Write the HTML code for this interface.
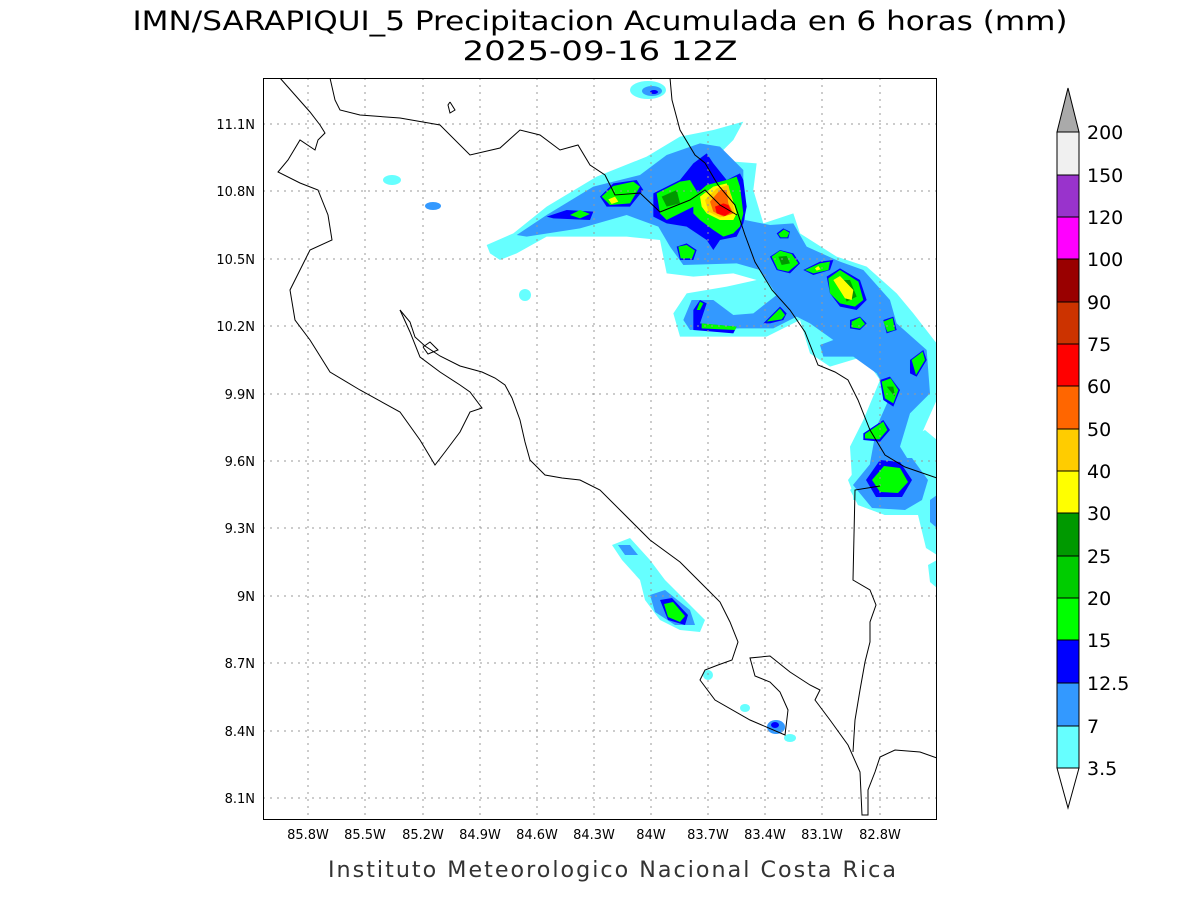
<!DOCTYPE html>
<html><head><meta charset="utf-8"><style>
html,body{margin:0;padding:0;background:#fff;}
svg{display:block;font-family:"DejaVu Sans","Liberation Sans",sans-serif;}
</style></head><body>
<svg width="1200" height="900" viewBox="0 0 1200 900" xmlns="http://www.w3.org/2000/svg">
<rect width="1200" height="900" fill="#fff"/>
<text x="600" y="30" font-size="27" text-anchor="middle" fill="#000" textLength="935" lengthAdjust="spacingAndGlyphs">IMN/SARAPIQUI_5 Precipitacion Acumulada en 6 horas (mm)</text>
<text x="600" y="60" font-size="27" text-anchor="middle" fill="#000" textLength="275" lengthAdjust="spacingAndGlyphs">2025-09-16 12Z</text>
<defs><clipPath id="pc"><rect x="263" y="78" width="674" height="742"/></clipPath></defs>
<g clip-path="url(#pc)">
<path fill="#66ffff" d="M848,480 L870,450 905,440 925,430 937,440 937,555 926,548 918,515 885,515 858,505Z M928,565 L937,560 937,588 930,582Z"/>
<g transform="translate(480,80) scale(0.33333)">
<path fill="#66ffff" d="M20,495 L100,460 200,380 350,290 500,230 600,170 700,150 790,125 760,180 700,240 830,250 820,330 850,430 940,400 960,460 1070,530 1160,560 1250,640 1300,700 1370,790 1370,960 1330,1050 1300,1100 1370,1180 1370,1260 1120,1260 1110,1100 1150,1020 1200,900 1150,830 1050,860 990,820 960,720 860,770 600,770 580,700 620,640 740,620 830,600 760,580 640,590 560,580 540,480 440,470 200,470 110,520 60,540 30,520Z"/>
<path fill="#3399ff" d="M110,465 L200,405 340,320 480,285 560,225 660,190 720,200 790,270 790,330 795,420 870,435 940,430 980,500 1080,545 1150,570 1230,660 1250,730 1340,810 1350,940 1290,1000 1260,1100 1310,1180 1290,1260 1190,1260 1170,1150 1190,1040 1230,950 1190,880 1120,830 1030,830 1020,795 1060,780 990,730 950,710 880,745 780,745 630,750 610,720 635,660 700,660 760,705 820,700 890,645 840,570 770,550 610,555 570,500 535,440 440,405 300,445 140,470Z"/>
<path fill="#0000ff" d="M200,410 L260,390 340,395 330,420 220,415Z M360,350 L400,310 470,300 490,330 450,380 380,380Z M520,340 L600,300 640,250 680,220 700,250 740,300 780,280 790,300 800,380 790,430 770,470 720,480 700,510 680,480 620,440 560,430 520,410Z M870,530 L900,510 940,520 960,550 930,580 890,570Z M970,570 L1020,545 1060,540 1050,570 1000,585Z M1040,590 L1080,565 1140,600 1160,660 1130,690 1080,680 1050,640Z M640,690 L660,660 680,670 660,730 770,740 760,760 640,750Z M850,730 L900,680 920,700 910,720 870,730Z M1110,720 L1140,710 1160,730 1140,750 1110,745Z M1210,720 L1240,710 1250,750 1220,760Z M1290,840 L1330,810 1340,840 1310,890 1290,880Z M1200,900 L1230,890 1260,930 1240,980 1210,960Z M1150,1060 L1210,1020 1230,1050 1200,1085 1150,1080Z M890,460 L910,445 930,455 925,475 900,475Z M590,500 L620,490 650,510 640,540 600,540Z"/>
<path fill="#00ff00" d="M270,405 L300,390 330,402 300,415Z M365,350 L400,318 460,305 480,320 450,370 390,375Z M530,340 L600,305 630,300 660,350 660,370 620,390 560,420 540,400Z M640,350 L680,315 740,300 770,290 780,320 790,400 780,440 760,460 730,470 700,450 660,420 640,400Z M875,530 L900,512 935,522 955,550 925,575 893,568Z M975,570 L1020,550 1050,545 1045,570 1000,580Z M1045,595 L1080,570 1135,605 1150,660 1125,680 1080,670 1050,640Z M650,690 L660,665 670,670 660,690Z M665,730 L770,740 765,750 665,745Z M860,725 L900,685 915,705 905,718Z M1115,725 L1140,712 1155,732 1140,746 1115,742Z M1210,725 L1238,714 1245,750 1222,756Z M1295,840 L1328,815 1335,840 1308,885Z M1205,905 L1232,895 1255,930 1240,970 1215,955Z M1155,1062 L1210,1025 1222,1050 1198,1078 1155,1075Z M895,462 L912,448 928,458 922,472 902,472Z M595,500 L620,495 645,512 636,535 602,535Z"/>
<path fill="#009900" d="M545,350 L590,330 600,370 560,380Z M895,530 L920,528 930,550 905,555Z M1075,600 L1110,600 1130,650 1100,665Z M1220,920 L1240,920 1245,950Z"/>
<path fill="#ffff00" d="M385,358 L405,350 415,365 395,372Z M660,350 L700,320 740,310 755,350 770,400 760,420 720,420 680,400 665,380Z M1005,565 L1015,558 1022,568 1010,572Z M1060,600 L1080,588 1120,630 1115,660 1095,655Z"/>
<path fill="#ffcc00" d="M675,360 L710,325 745,315 755,355 765,400 720,412 685,395Z"/>
<path fill="#ff6600" d="M690,365 L720,330 740,330 745,370 760,400 730,410 700,395Z"/>
<path fill="#ff0000" d="M705,380 L730,370 745,375 755,395 735,408 710,400Z"/>
</g>
<path fill="#66ffff" d="M850,490 L870,470 905,465 925,490 918,515 885,515 858,505Z"/>
<path fill="#3399ff" d="M853,485 L875,458 912,458 928,480 922,500 905,510 872,508Z M930,500 L937,495 937,528 930,522Z"/>
<path fill="#0000ff" d="M866,480 L880,460 900,462 912,480 902,497 876,497Z"/>
<path fill="#00ff00" d="M872,480 L884,466 900,468 908,482 898,493 880,492Z"/>
<ellipse cx="392" cy="180" rx="9" ry="5" fill="#66ffff"/>
<ellipse cx="433" cy="206" rx="8" ry="4" fill="#3399ff"/>
<ellipse cx="525" cy="295" rx="6" ry="6" fill="#66ffff"/>
<ellipse cx="648" cy="90" rx="18" ry="9" fill="#66ffff"/>
<ellipse cx="652" cy="91" rx="10" ry="5" fill="#3399ff"/>
<ellipse cx="654" cy="92" rx="4" ry="2" fill="#0000ff"/>
<path fill="#66ffff" d="M612,545 L630,538 650,560 665,580 690,605 705,620 700,632 680,630 660,620 645,600 640,580 622,560Z"/>
<path fill="#3399ff" d="M650,595 L665,590 690,610 695,625 675,625 655,612Z M618,545 L630,545 638,555 625,555Z"/>
<path fill="#0000ff" d="M660,600 L672,598 688,615 685,625 668,620Z"/>
<path fill="#00ff00" d="M664,604 L673,602 685,616 680,622 668,617Z"/>
<ellipse cx="776" cy="727" rx="9" ry="7" fill="#3399ff"/>
<ellipse cx="775" cy="725" rx="4" ry="3" fill="#0000ff"/>
<ellipse cx="790" cy="738" rx="6" ry="4" fill="#66ffff"/>
<ellipse cx="745" cy="708" rx="5" ry="4" fill="#66ffff"/>
<ellipse cx="708" cy="675" rx="5" ry="5" fill="#66ffff"/>
</g>
<g stroke="#999" stroke-width="1" stroke-dasharray="2,5">
<line x1="308" y1="78" x2="308" y2="820"/><line x1="365" y1="78" x2="365" y2="820"/><line x1="423" y1="78" x2="423" y2="820"/><line x1="480" y1="78" x2="480" y2="820"/><line x1="537" y1="78" x2="537" y2="820"/><line x1="594" y1="78" x2="594" y2="820"/><line x1="651" y1="78" x2="651" y2="820"/><line x1="708" y1="78" x2="708" y2="820"/><line x1="765" y1="78" x2="765" y2="820"/><line x1="822" y1="78" x2="822" y2="820"/><line x1="880" y1="78" x2="880" y2="820"/>
<line x1="263" y1="124" x2="937" y2="124"/><line x1="263" y1="191" x2="937" y2="191"/><line x1="263" y1="259" x2="937" y2="259"/><line x1="263" y1="326" x2="937" y2="326"/><line x1="263" y1="394" x2="937" y2="394"/><line x1="263" y1="461" x2="937" y2="461"/><line x1="263" y1="528" x2="937" y2="528"/><line x1="263" y1="596" x2="937" y2="596"/><line x1="263" y1="663" x2="937" y2="663"/><line x1="263" y1="731" x2="937" y2="731"/><line x1="263" y1="798" x2="937" y2="798"/>
</g>
<g clip-path="url(#pc)" fill="none" stroke="#000" stroke-width="1">
<polyline points="280,78 295,95 310,112 320,125 325,133 318,140 315,150 300,140 288,160 278,172 300,183 318,190 328,215 332,240 310,250 300,270 290,290 295,320 310,340 330,372 360,390 400,412 420,440 435,465 445,452 460,432 470,412 482,408 470,392 460,385 440,372 420,357 410,332 400,310"/>
<polyline points="400,310 410,322 415,337 425,346 440,356 460,366 482,372 495,378 505,385 512,398 520,420 525,442 530,460 545,475 562,478 580,480 600,490 620,510 650,540 680,562 700,582 720,602 730,622 738,642 732,660 718,665 705,670 700,680 715,700 750,720 785,735 788,710 780,692 770,682 755,676 750,658 770,656 790,672 810,685 820,690 815,700 830,720 848,745 860,772 862,815 868,815 868,790 875,772 880,757 895,750 920,752 937,758"/>
<polyline points="330,78 335,100 340,110 360,115 400,118 440,125 470,155 500,148 520,130 540,135 560,150 578,145 590,165 605,175 615,195 640,193 660,212 690,200 705,190 720,205 737,215"/>
<polyline points="670,78 672,100 680,130 695,155 705,163 718,185 735,205 745,235 755,262 772,290 790,310 805,332 818,365 835,372 848,380 858,400 870,430 885,455 905,467 937,478"/>
<polyline points="880,486 855,490 853,580 870,590 876,605 870,622 870,642 865,662 860,690 855,720 853,752"/>
<polyline points="423,347 430,342 438,350 428,354 423,347"/>
<polyline points="450,102 455,110 450,113 448,105 450,102"/>
</g>
<rect x="263.5" y="78.5" width="673" height="741" fill="none" stroke="#000" stroke-width="1"/>
<g font-size="13" fill="#000" text-anchor="end">
<text x="255" y="129">11.1N</text><text x="255" y="196">10.8N</text><text x="255" y="264">10.5N</text><text x="255" y="331">10.2N</text><text x="255" y="399">9.9N</text><text x="255" y="466">9.6N</text><text x="255" y="533">9.3N</text><text x="255" y="601">9N</text><text x="255" y="668">8.7N</text><text x="255" y="736">8.4N</text><text x="255" y="803">8.1N</text>
</g>
<g font-size="13" fill="#000" text-anchor="middle">
<text x="308" y="839">85.8W</text><text x="365" y="839">85.5W</text><text x="423" y="839">85.2W</text><text x="480" y="839">84.9W</text><text x="537" y="839">84.6W</text><text x="594" y="839">84.3W</text><text x="651" y="839">84W</text><text x="708" y="839">83.7W</text><text x="765" y="839">83.4W</text><text x="822" y="839">83.1W</text><text x="880" y="839">82.8W</text>
</g>
<text x="613" y="877" font-size="22" text-anchor="middle" fill="#333" textLength="570" lengthAdjust="spacingAndGlyphs" letter-spacing="2">Instituto Meteorologico Nacional Costa Rica</text>
<g stroke="#000" stroke-width="1">
<polygon points="1057,132 1079,132 1068,88" fill="#aaaaaa"/>
<rect x="1057" y="132" width="22" height="43" fill="#f0f0f0"/>
<rect x="1057" y="175" width="22" height="42" fill="#9933cc"/>
<rect x="1057" y="217" width="22" height="42" fill="#ff00ff"/>
<rect x="1057" y="259" width="22" height="43" fill="#990000"/>
<rect x="1057" y="302" width="22" height="42" fill="#cc3300"/>
<rect x="1057" y="344" width="22" height="42" fill="#ff0000"/>
<rect x="1057" y="386" width="22" height="43" fill="#ff6600"/>
<rect x="1057" y="429" width="22" height="42" fill="#ffcc00"/>
<rect x="1057" y="471" width="22" height="42" fill="#ffff00"/>
<rect x="1057" y="513" width="22" height="43" fill="#009900"/>
<rect x="1057" y="556" width="22" height="42" fill="#00cc00"/>
<rect x="1057" y="598" width="22" height="42" fill="#00ff00"/>
<rect x="1057" y="640" width="22" height="43" fill="#0000ff"/>
<rect x="1057" y="683" width="22" height="43" fill="#3399ff"/>
<rect x="1057" y="726" width="22" height="42" fill="#66ffff"/>
<polygon points="1057,768 1079,768 1068,808" fill="#ffffff"/>
</g>
<g font-size="19" fill="#000">
<text x="1087" y="139">200</text><text x="1087" y="182">150</text><text x="1087" y="224">120</text><text x="1087" y="266">100</text><text x="1087" y="309">90</text><text x="1087" y="351">75</text><text x="1087" y="393">60</text><text x="1087" y="436">50</text><text x="1087" y="478">40</text><text x="1087" y="520">30</text><text x="1087" y="563">25</text><text x="1087" y="605">20</text><text x="1087" y="647">15</text><text x="1087" y="690">12.5</text><text x="1087" y="733">7</text><text x="1087" y="775">3.5</text>
</g>
</svg>
</body></html>
